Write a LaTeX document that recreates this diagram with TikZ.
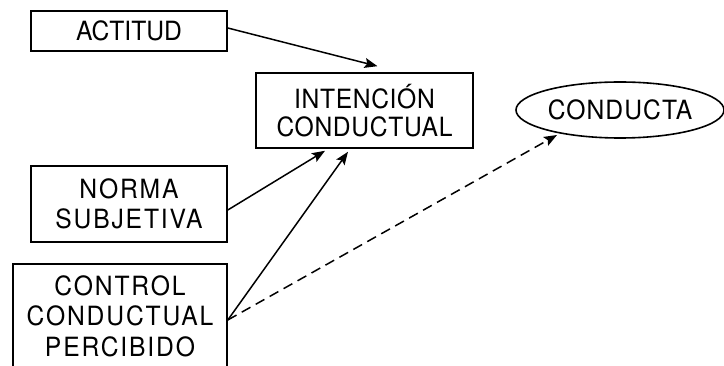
\documentclass[tikz,border=0pt]{standalone}
\usepackage{fontspec}
\setmainfont{TeX Gyre Heros}
\newfontfamily\fA[FakeStretch=0.93]{TeX Gyre Heros}
\newfontfamily\fB[FakeStretch=0.93,LetterSpace=2.5]{TeX Gyre Heros}
\newfontfamily\fC[FakeStretch=0.93,LetterSpace=4]{TeX Gyre Heros}
\newfontfamily\fD[FakeStretch=0.93,LetterSpace=7]{TeX Gyre Heros}
\usetikzlibrary{arrows.meta,calc,shapes.geometric}
\begin{document}
\begin{tikzpicture}[x=1pt,y=-1pt,
  box/.style={draw,line width=1.6pt,inner sep=0pt,align=center,
    font=\fA\fontsize{26.5}{29}\selectfont},
  arr/.style={line width=1.5pt,-{Stealth[length=13pt,width=10pt,inset=2.5pt]}}]
\clip (0,0) rectangle (724,366);
\fill[white] (0,0) rectangle (724,366);
\node[box,minimum width=196pt,minimum height=40pt] (act) at (129,31) {ACTITUD};
\node[box,minimum width=217pt,minimum height=75pt,font=\fB\fontsize{26.5}{28.5}\selectfont] (int) at (364.5,110.5) {INTENCIÓN\\CONDUCTUAL};
\node[box,minimum width=196pt,minimum height=76pt,font=\fD\fontsize{26.5}{30}\selectfont] (norma) at (129,204) {NORMA\\SUBJETIVA};
\node[box,minimum width=214pt,minimum height=104pt,font=\fD\fontsize{26.5}{30.5}\selectfont] (ctrl) at (120,316) {CONTROL\\CONDUCTUAL\\PERCIBIDO};
\node[box,ellipse,minimum width=208pt,minimum height=56pt,font=\fC\fontsize{26.5}{29}\selectfont] (cond) at (620,110) {CONDUCTA};
\draw[arr] ([yshift=3pt]act.east) -- ($(int.north)+(13,-6)$);
\draw[arr] ([yshift=-6pt]norma.east) -- ($(int.south)+(-39.5,2)$);
\draw[arr] ([yshift=-4pt]ctrl.east) -- ($(int.south)+(-16.5,3)$);
\draw[arr,dash pattern=on 10pt off 6pt] ([yshift=-4pt]ctrl.east) -- ($(cond.center)+(-63,25)$);
\end{tikzpicture}
\end{document}
